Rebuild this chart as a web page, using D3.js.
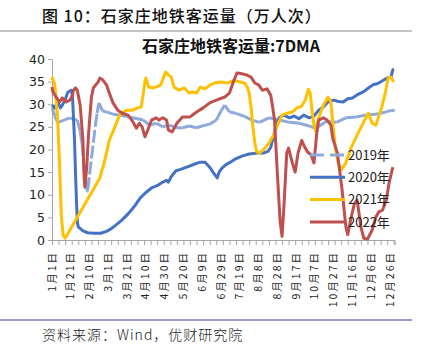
<!DOCTYPE html>
<html>
<head>
<meta charset="utf-8">
<script src="https://cdn.jsdelivr.net/npm/d3@7"></script>
<style>
  body { margin: 0; background: #fff; }
  text { font-family: "Noto Sans CJK SC", "DejaVu Sans", sans-serif; }
</style>
</head>
<body>
<div id="chart"></div>
<script>
// day index (0 = 1月1日, leap-year calendar) and 7DMA value
const s2019 = [[0,29.2],[3,27.5],[6,26],[13,26.5],[19,27],[27,26.5],[30,24],[32,21.4],[35,14],[37,10.6],
  [38,11],[40,14.5],[42,18],[44,21.5],[46,25],[48,28],[50,30.3],[54,28.5],[58,28.3],[65,27.8],[72,27.6],
  [80,27.3],[86,27],[97,26.5],[104,25.4],[111,25.8],[118,25],[125,25.4],[133,24.8],[139,24.8],[146,25.2],
  [154,24.8],[160,25.2],[168,25.6],[175,26.5],[180,28.5],[184,29.8],[189,28.3],[196,28],[205,27.3],
  [213,26.5],[221,26],[231,27],[242,26.5],[253,26],[263,25.8],[274,25.2],[281,24.7],[292,26.2],[303,26],
  [313,27],[324,27.2],[334,27.6],[345,27.8],[356,28.3],[362,28.7],[365,28.5]];

const s2020 = [[0,29.8],[3,29.2],[6,30.5],[9,29.2],[11,29.8],[14,31],[17,32.7],[21,33.1],[22,31],[24,22],
  [25,15],[26,9],[27,4],[28,2.9],[33,2],[38,1.6],[45,1.5],[52,1.5],[58,1.9],[63,2.5],[68,3.3],[75,4.5],
  [82,6],[88,7.5],[94,9.3],[100,10.5],[106,11.5],[112,12],[118,12.8],[122,13.2],[124,12.8],[127,14],
  [132,15.3],[137,15.6],[142,16],[147,16.4],[152,16.8],[158,17.2],[163,17.2],[166,16.5],[169,15.8],
  [172,14.8],[175,14],[176,13.7],[178,15],[181,15.9],[185,16.6],[190,17.2],[196,18],[203,18.6],[210,19],
  [218,19.2],[225,19.2],[230,19.6],[233,20.5],[236,23],[239,25.5],[242,27],[247,27.6],[253,27],[258,27.4],
  [263,26.8],[268,27.6],[274,27],[279,27.4],[284,28.7],[289,29.4],[294,30.5],[300,30.9],[305,30.6],
  [310,30.5],[315,31.2],[320,31.4],[326,32.2],[332,32.8],[337,33.6],[342,34.3],[347,34.6],[352,35.2],
  [357,35.8],[361,36],[363,37.6],[364,37.8]];

const s2021 = [[0,36],[3,34.3],[6,27],[8,17],[10,5],[12,1],[14,0.4],[51,13.7],[53,15.3],[55,16.6],[58,19.2],
  [61,22],[67,25],[72,27.6],[79,28.7],[86,28.7],[91,29.2],[95,29.4],[97,32],[99,35],[100,35.8],[103,33.8],
  [108,33.6],[113,34],[116,34.3],[119,36],[121,37.1],[124,36.5],[127,36],[130,33.8],[135,33.1],[141,33.6],
  [146,32.5],[150,32.7],[154,32.5],[158,33.8],[163,33.4],[168,34.2],[173,34.7],[180,34.9],[187,34.7],
  [194,35.3],[200,34.9],[205,34.7],[208,33.8],[210,32.5],[212,29.4],[214,25],[216,21.5],[218,19.5],
  [221,19.2],[225,19.9],[231,21.4],[236,23.2],[241,25.8],[245,27.6],[250,28],[256,28.3],[261,29.2],
  [266,29.6],[270,31],[273,33.3],[275,32.5],[277,28.5],[279,25.5],[281,24],[284,27],[289,29.8],[294,31.6],
  [297,30.5],[299,26],[302,20],[305,17],[308,15.5],[313,17],[319,20.6],[326,23.6],[333,26.5],[337,28],
  [341,25.8],[345,25.4],[351,29.2],[355,32.5],[358,35.8],[361,36],[364,34.9]];

const s2022 = [[0,33.8],[1,32.7],[5,31.4],[8,30.5],[11,31.4],[15,30.5],[19,30.9],[21,31.6],[23,33.1],
  [25,33.6],[27,33.1],[30,29.8],[33,22],[34,14.8],[35,11.7],[37,16.1],[39,23.6],[42,31.6],[44,33.6],
  [49,34.9],[51,35.8],[54,35.4],[58,34.3],[61,32.5],[65,30.3],[70,28.7],[75,28],[81,27.6],[85,26.5],
  [88,25.4],[90,24.7],[93,25.8],[96,25],[99,22.8],[102,24.3],[106,26.5],[111,27],[114,26.5],[118,27],
  [122,26.5],[124,24.3],[128,23.9],[133,25.8],[139,27.2],[147,27.2],[154,28.3],[161,29.2],[168,30.3],
  [175,30.9],[184,31.6],[189,32.5],[194,35.4],[197,36.9],[201,36.8],[207,36.5],[212,36],[216,34.7],
  [220,34.3],[224,33.1],[229,33.4],[233,32],[235,29.4],[237,26.5],[240,14.8],[243,4],[245,0.8],[247,7.3],
  [250,19.2],[252,20.3],[256,17],[259,15],[262,19.2],[266,22],[269,20.6],[272,19.5],[276,18.8],[279,17],
  [282,23.6],[284,26.5],[289,27],[293,26.5],[297,25.4],[299,22.5],[304,19.2],[309,11],[313,2.9],[315,1.2],
  [318,4.4],[322,8],[325,8.8],[329,2.9],[332,0.4],[336,0.2],[341,2.2],[345,5.1],[348,6.2],[352,6.6],
  [356,8.8],[359,12.6],[363,16.1]];

const seriesNames = ["2019年", "2020年", "2021年", "2022年"];
const seriesColors = ["#8eaadb", "#4472c4", "#ffc000", "#c0504d"];
const yTicks = [0, 5, 10, 15, 20, 25, 30, 35, 40];
const labelDays = [0, 20, 40, 60, 80, 100, 120, 140, 160, 180, 200, 220, 240, 260, 280, 300, 320, 340, 360];
const labelText = ["1月1日", "1月21日", "2月10日", "3月1日", "3月21日", "4月10日", "4月30日", "5月20日",
  "6月9日", "6月29日", "7月19日", "8月8日", "8月28日", "9月17日", "10月7日", "10月27日", "11月16日",
  "12月6日", "12月26日"];

const W = 431, H = 353;
const svg = d3.select("#chart").append("svg").attr("width", W).attr("height", H);

// header & footer
svg.append("text").attr("x", 42).attr("y", 22).attr("font-size", 16).attr("font-weight", 500)
  .attr("letter-spacing", "1px").attr("fill", "#111").text("图 10：石家庄地铁客运量（万人次）");
svg.append("line").attr("x1", 0).attr("x2", 412).attr("y1", 31).attr("y2", 31)
  .attr("stroke", "#8c8c8c").attr("stroke-width", 1.2);
svg.append("line").attr("x1", 0).attr("x2", 412).attr("y1", 320).attr("y2", 320)
  .attr("stroke", "#9a9acb").attr("stroke-width", 2);
svg.append("text").attr("x", 42).attr("y", 340).attr("font-size", 14).attr("font-weight", 300)
  .attr("letter-spacing", "1px").attr("fill", "#222")
  .text("资料来源：Wind，优财研究院");

svg.append("text").attr("x", 231).attr("y", 52).attr("text-anchor", "middle")
  .attr("font-size", 16).attr("font-weight", "bold").attr("fill", "#111")
  .text("石家庄地铁客运量:7DMA");

const x = d3.scaleLinear().domain([0, 365]).range([52, 394.7]);
const y = d3.scaleLinear().domain([0, 40]).range([240, 59]);

// y axis
const yAxis = svg.append("g").attr("transform", "translate(52,0)")
  .call(d3.axisLeft(y).tickValues(yTicks).tickSize(4).tickPadding(3));
yAxis.select(".domain").attr("stroke", "#a6a6a6");
yAxis.selectAll(".tick line").attr("stroke", "#a6a6a6");
yAxis.selectAll("text").attr("font-size", 12.5).attr("fill", "#222")
  .style("font-family", "'DejaVu Sans', sans-serif");

// x axis: ticks every 7 days, labels every 20
const xAxis = svg.append("g").attr("transform", "translate(0,240)")
  .call(d3.axisBottom(x).tickValues(d3.range(0, 366, 7)).tickSize(5).tickFormat(""));
xAxis.select(".domain").attr("stroke", "#a6a6a6");
xAxis.selectAll(".tick line").attr("stroke", "#a6a6a6");

svg.append("g").selectAll("text").data(labelDays).join("text")
  .attr("transform", d => `translate(${x(d) + 3.5},251) rotate(-90)`)
  .attr("text-anchor", "end").attr("font-size", 10.5).attr("letter-spacing", "2px")
  .attr("fill", "#222").text((d, i) => labelText[i]);

// lines
const line = d3.line().x(d => x(d[0])).y(d => y(d[1]));

// 2019: segment by segment, dash pattern restarts on each segment (only long ones show gaps)
const segs = d3.pairs(s2019);
svg.append("g").selectAll("path").data(segs).join("path")
  .attr("d", d => line(d)).attr("fill", "none")
  .attr("stroke", seriesColors[0]).attr("stroke-width", 3)
  .attr("stroke-dasharray", "13,4");

[s2020, s2021, s2022].forEach((s, i) => {
  svg.append("path").datum(s).attr("d", line).attr("fill", "none")
    .attr("stroke", seriesColors[i + 1]).attr("stroke-width", 3)
    .attr("stroke-linejoin", "round");
});

// legend
const leg = svg.append("g").selectAll("g").data(seriesNames).join("g")
  .attr("transform", (d, i) => `translate(310,${155 + i * 22.3})`);
leg.append("line").attr("x1", 0).attr("x2", 35).attr("stroke-width", 3)
  .attr("stroke", (d, i) => seriesColors[i])
  .attr("stroke-dasharray", (d, i) => i === 0 ? "14,6" : null);
leg.append("text").attr("x", 38).attr("dy", "0.36em").attr("font-size", 13)
  .attr("fill", "#222").text(d => d);
</script>
</body>
</html>
